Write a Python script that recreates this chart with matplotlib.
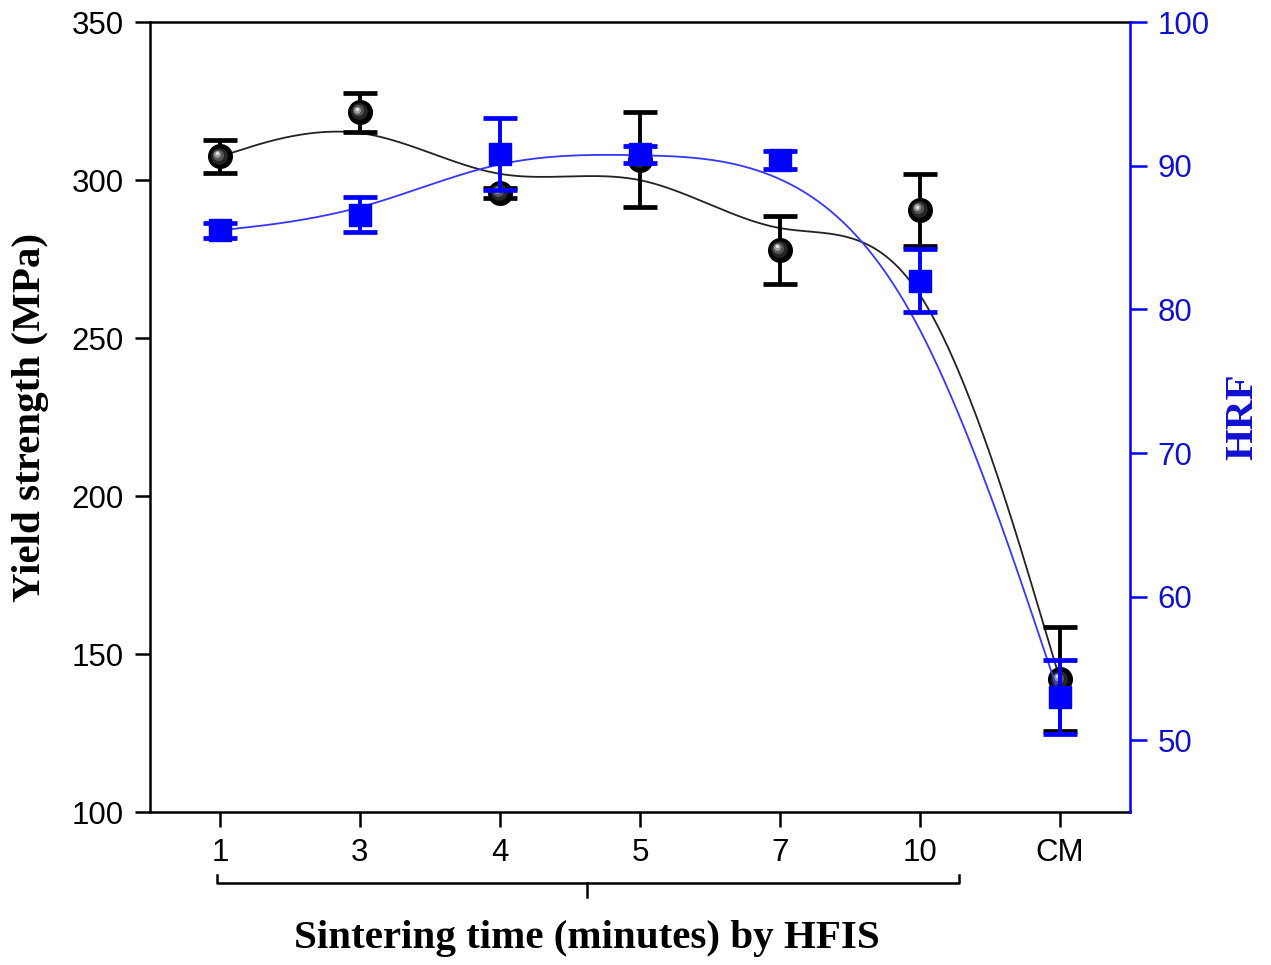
import numpy as np
import matplotlib
matplotlib.use("Agg")
import matplotlib.pyplot as plt
import matplotlib.transforms as mtransforms

# ---------------- data ----------------
categories = ['1', '3', '4', '5', '7', '10', 'CM']
yield_strength = [307.5, 321.5, 296.0, 306.5, 278.0, 290.5, 142.0]
yield_err = [5.2, 6.2, 1.5, 15.0, 10.8, 11.4, 16.5]
hrf = [85.5, 86.6, 90.8, 90.8, 90.4, 82.0, 53.0]
hrf_err = [0.5, 1.2, 2.5, 0.6, 0.6, 2.2, 2.6]
left_ticks = [100, 150, 200, 250, 300, 350]
right_ticks = [50, 60, 70, 80, 90, 100]

BLUE = '#0000ff'
BLUE_TXT = '#1010d0'
SANS = ['Liberation Sans', 'DejaVu Sans']
SERIF = ['Liberation Serif', 'DejaVu Serif']


def bspline_curve(cx, cy, num_per_seg=80):
    """Uniform cubic B-spline (data points as control points, end points tripled)."""
    cx = np.asarray(cx, float)
    cy = np.asarray(cy, float)
    qx = np.r_[cx[0], cx[0], cx, cx[-1], cx[-1]]
    qy = np.r_[cy[0], cy[0], cy, cy[-1], cy[-1]]
    M = np.array([[-1, 3, -3, 1],
                  [3, -6, 3, 0],
                  [-3, 0, 3, 0],
                  [1, 4, 1, 0]]) / 6.0
    t = np.linspace(0, 1, num_per_seg)
    T = np.vstack([t ** 3, t ** 2, t, np.ones_like(t)]).T
    B = T @ M
    xs, ys = [], []
    for i in range(len(qx) - 3):
        xs.append(B @ qx[i:i + 4])
        ys.append(B @ qy[i:i + 4])
    return np.concatenate(xs), np.concatenate(ys)


fig = plt.figure(figsize=(12.71, 9.65), dpi=100)
ax = fig.add_axes([0.118, 0.1585, 0.771, 0.8185])
ax2 = ax.twinx()

x = np.arange(len(categories))

# curves
bx, by = bspline_curve(x, yield_strength)
ax.plot(bx, by, color='#222222', lw=1.3, zorder=2)
hx, hy = bspline_curve(x, hrf)
ax2.plot(hx, hy, color='#3535ff', lw=1.3, zorder=2)

# black series: error bars + shaded spheres
ax.errorbar(x, yield_strength, yerr=yield_err, fmt='none', ecolor='black',
            elinewidth=2.8, capsize=12, capthick=3.4, zorder=3)
ax.plot(x, yield_strength, 'o', ms=17, color='black', mec='black', zorder=4)
for off, ms, col in [(0.8, 12, '#262626'), (1.8, 8, '#555555'), (2.7, 5, '#9a9a9a'), (3.2, 2.5, '#e0e0e0')]:
    tr = mtransforms.offset_copy(ax.transData, fig=fig, x=-off, y=off, units='dots')
    ax.plot(x, yield_strength, 'o', ms=ms, color=col, mec='none', transform=tr, zorder=5)

# blue series
ax2.errorbar(x, hrf, yerr=hrf_err, fmt='none', ecolor=BLUE,
             elinewidth=2.8, capsize=12, capthick=3.4, zorder=3)
ax2.plot(x, hrf, 's', ms=15.5, color=BLUE, mec=BLUE, zorder=4)

# axes limits / ticks
ax.set_xlim(-0.5, 6.5)
ax.set_ylim(100, 350)
ax2.set_ylim(45, 100)
ax.set_xticks(x)
ax.set_xticklabels(categories)
ax.set_yticks(left_ticks)
ax2.set_yticks(right_ticks)

for lab in ax.get_xticklabels() + ax.get_yticklabels():
    lab.set_family(SANS)
for lab in ax2.get_yticklabels():
    lab.set_family(SANS)

ax.tick_params(axis='both', direction='out', length=11, width=1.8,
               labelsize=22.5, top=False, right=False, colors='black')
ax.tick_params(axis='y', pad=8)
ax.tick_params(axis='x', pad=8)
ax2.tick_params(axis='y', direction='out', length=12, width=1.8,
                labelsize=22.5, colors=BLUE, labelcolor=BLUE_TXT, pad=8)

for s in ['left', 'top', 'bottom']:
    ax.spines[s].set_linewidth(1.8)
    ax.spines[s].set_color('black')
ax.spines['right'].set_visible(False)
for s in ['left', 'top', 'bottom']:
    ax2.spines[s].set_visible(False)
ax2.spines['right'].set_color(BLUE)
ax2.spines['right'].set_linewidth(1.8)

# labels
ax.text(-0.1224, 0.5, 'Yield strength (MPa)', transform=ax.transAxes, rotation=90,
        ha='center', va='center', fontsize=29.5, fontweight='bold', family=SERIF, color='black')
ax.text(1.1153, 0.5, 'HRF', transform=ax.transAxes, rotation=90,
        ha='center', va='center', fontsize=29.5, fontweight='bold', family=SERIF, color=BLUE_TXT)

# bracket below HFIS categories
btr = mtransforms.blended_transform_factory(ax.transData, ax.transAxes)
bl, br, bm = -0.02, 5.28, 2.62
yb, yt, ym = -0.0899, -0.0797, -0.1076
ax.plot([bl, bl, br, br], [yt, yb, yb, yt], color='black', lw=1.8,
        transform=btr, clip_on=False, solid_joinstyle='round')
ax.plot([bm, bm], [yb, ym], color='black', lw=1.8, transform=btr, clip_on=False)
ax.text(bm, -0.16, 'Sintering time (minutes) by HFIS', transform=btr,
        ha='center', va='center', fontsize=29.5, fontweight='bold', family=SERIF, color='black')

fig.savefig('out.png', dpi=100)
